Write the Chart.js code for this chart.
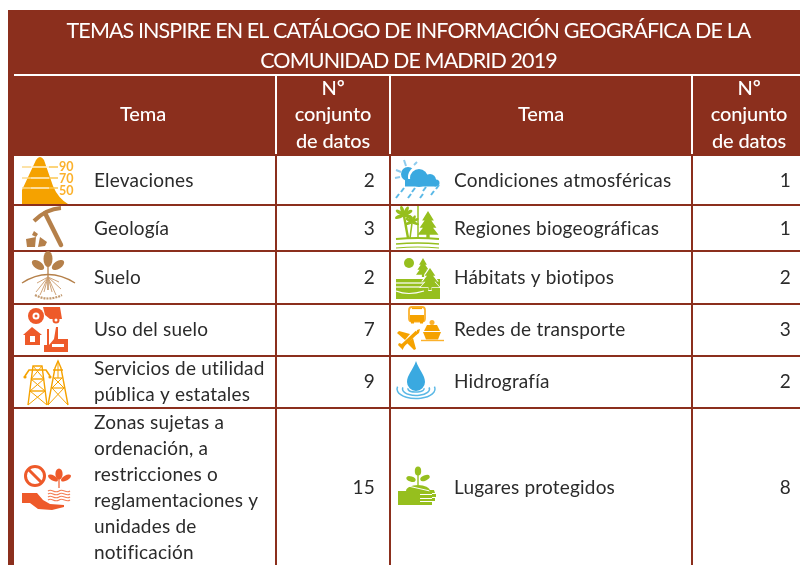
<!DOCTYPE html>
<html lang="es">
<head>
<meta charset="utf-8">
<title>Temas INSPIRE</title>
<script src="https://cdn.jsdelivr.net/npm/chart.js@4"></script>
<style>
  html, body { margin: 0; padding: 0; background: #fff; }
  canvas { display: block; }
</style>
</head>
<body>
<canvas id="tabla" width="800" height="565"></canvas>
<script>
const titulo = ["TEMAS INSPIRE EN EL CATÁLOGO DE INFORMACIÓN GEOGRÁFICA DE LA", "COMUNIDAD DE MADRID 2019"];
const cabeceraTema = "Tema";
const cabeceraConjuntos = ["Nº", "conjunto", "de datos"];

const temasIzq = [
  ["Elevaciones"],
  ["Geología"],
  ["Suelo"],
  ["Uso del suelo"],
  ["Servicios de utilidad", "pública y estatales"],
  ["Zonas sujetas a", "ordenación, a", "restricciones o", "reglamentaciones y", "unidades de", "notificación"],
];
const conjuntosIzq = [2, 3, 2, 7, 9, 15];

const temasDcha = [
  ["Condiciones atmosféricas"],
  ["Regiones biogeográficas"],
  ["Hábitats y biotipos"],
  ["Redes de transporte"],
  ["Hidrografía"],
  ["Lugares protegidos"],
];
const conjuntosDcha = [1, 1, 2, 3, 2, 8];

// bordes de la tabla, en unidades de los ejes
const bordesColumnas = [11, 276, 390, 692];
const bordesFilas = [155, 205, 251, 304, 356, 408];
const centrosFilas = [180.5, 228.5, 277.5, 329.5, 381.5, 487.5];
const finFilas = 565;

const MARRON = "#8b2f1d";
const NARANJA = "#f5a200";
const ROJIZO = "#ee5a2a";
const OCRE = "#b5804a";
const VERDE = "#96bf1e";
const AZUL = "#3aa9e0";
const TEXTO = "#2b2b2b";
const FUENTE = "Lato, 'Open Sans', sans-serif";

function poly(ctx, pts, color) {
  ctx.fillStyle = color;
  ctx.beginPath();
  pts.forEach((p, i) => i ? ctx.lineTo(p[0], p[1]) : ctx.moveTo(p[0], p[1]));
  ctx.closePath();
  ctx.fill();
}
function linea(ctx, pts, color, w) {
  ctx.strokeStyle = color;
  ctx.lineWidth = w;
  ctx.beginPath();
  pts.forEach((p, i) => i ? ctx.lineTo(p[0], p[1]) : ctx.moveTo(p[0], p[1]));
  ctx.stroke();
}
function circulo(ctx, x, y, r, color) {
  ctx.fillStyle = color;
  ctx.beginPath();
  ctx.arc(x, y, r, 0, Math.PI * 2);
  ctx.fill();
}
function hoja(ctx, x, y, rx, ry, rot, color) {
  ctx.fillStyle = color;
  ctx.beginPath();
  ctx.ellipse(x, y, rx, ry, rot, 0, Math.PI * 2);
  ctx.fill();
}
function pino(ctx, x, top, h, w, color) {
  poly(ctx, [[x, top], [x + w * 0.28, top + h * 0.35], [x + w * 0.16, top + h * 0.35], [x + w * 0.4, top + h * 0.62],
    [x + w * 0.24, top + h * 0.62], [x + w * 0.5, top + h * 0.88], [x + w * 0.08, top + h * 0.88], [x + w * 0.08, top + h],
    [x - w * 0.08, top + h], [x - w * 0.08, top + h * 0.88], [x - w * 0.5, top + h * 0.88], [x - w * 0.24, top + h * 0.62],
    [x - w * 0.4, top + h * 0.62], [x - w * 0.16, top + h * 0.35], [x - w * 0.28, top + h * 0.35]], color);
}
function palmera(ctx, x, y, r, color) {
  [-2.6, -1.9, -1.1, -0.5, 0.35, 2.8].forEach((a) =>
    hoja(ctx, x + Math.cos(a) * r * 0.5, y + Math.sin(a) * r * 0.5, r * 0.55, r * 0.2, a, color));
}

// iconos dibujados a mano, en pixeles de la pagina
const iconos = {
  elevaciones(ctx) {
    ctx.fillStyle = NARANJA;
    ctx.beginPath();
    ctx.moveTo(22, 204);
    ctx.lineTo(22, 190);
    ctx.lineTo(36, 160);
    ctx.quadraticCurveTo(40, 154, 44, 160);
    ctx.lineTo(53, 186);
    ctx.quadraticCurveTo(58, 198, 68, 204);
    ctx.closePath();
    ctx.fill();
    [167, 178, 188].forEach((y) => {
      linea(ctx, [[22, y], [31, y]], "#fbd98a", 1.5);
      linea(ctx, [[31, y], [49, y]], "#fff0cf", 1.5);
      linea(ctx, [[49, y], [58, y]], "#fbc64e", 1.5);
    });
    ctx.fillStyle = "#fbb12c";
    ctx.font = "bold 12.5px " + FUENTE;
    ctx.textAlign = "left";
    ctx.textBaseline = "middle";
    ctx.fillText("90", 59, 167);
    ctx.fillText("70", 59, 179);
    ctx.fillText("50", 59, 191);
  },
  geologia(ctx) {
    ctx.lineCap = "round";
    linea(ctx, [[45, 213], [61, 245]], OCRE, 4.5);
    ctx.strokeStyle = OCRE;
    ctx.lineWidth = 4;
    ctx.lineCap = "butt";
    ctx.beginPath();
    ctx.moveTo(34, 221);
    ctx.quadraticCurveTo(46, 209, 61, 208);
    ctx.stroke();
    poly(ctx, [[26, 239], [36, 237], [35, 247], [27, 247]], OCRE);
    poly(ctx, [[34, 231], [38, 234], [36, 237], [32, 235]], OCRE);
    poly(ctx, [[40, 237], [47, 242], [45, 246], [38, 247]], OCRE);
  },
  suelo(ctx) {
    ctx.lineCap = "butt";
    hoja(ctx, 48, 259, 4.5, 8, 0, OCRE);
    hoja(ctx, 38, 265, 7, 3.8, 0.6, OCRE);
    hoja(ctx, 58, 265, 7, 3.8, -0.6, OCRE);
    linea(ctx, [[48, 262], [48, 290]], OCRE, 1.3);
    ctx.strokeStyle = OCRE;
    ctx.lineWidth = 1.4;
    ctx.beginPath();
    ctx.moveTo(22, 283);
    ctx.quadraticCurveTo(48, 266, 75, 283);
    ctx.stroke();
    [[36, 292], [40, 295], [44, 292], [52, 292], [56, 295], [61, 289], [37, 283], [59, 282]].forEach((p) =>
      linea(ctx, [[48, 277], p], "#c99a6b", 0.9));
    ctx.setLineDash([2, 1]);
    ctx.lineWidth = 2.2;
    ctx.strokeStyle = "#c29a70";
    ctx.beginPath();
    ctx.moveTo(35, 295);
    ctx.quadraticCurveTo(48, 302, 62, 295);
    ctx.stroke();
    ctx.setLineDash([]);
  },
  usoSuelo(ctx) {
    circulo(ctx, 36, 316, 8, ROJIZO);
    circulo(ctx, 36, 316, 3.5, "#fff");
    circulo(ctx, 36, 316, 1.5, ROJIZO);
    poly(ctx, [[43, 307], [60, 307], [61, 313], [62, 319], [50, 319], [45, 315]], ROJIZO);
    circulo(ctx, 56, 320, 3.5, ROJIZO);
    circulo(ctx, 56, 320, 1.5, "#fff");
    poly(ctx, [[23, 335], [32, 327], [42, 335], [40, 335], [40, 345], [25, 345], [25, 335]], ROJIZO);
    ctx.fillStyle = "#fff";
    ctx.fillRect(30, 336, 5, 6);
    poly(ctx, [[44, 352], [44, 345], [47, 345], [47, 329], [49, 329], [49, 345], [54, 339], [56, 327], [58, 327], [58, 339], [68, 339], [68, 352]], ROJIZO);
    ctx.fillStyle = "#fff";
    ctx.fillRect(52, 344, 12, 3);
  },
  servicios(ctx) {
    ctx.lineCap = "butt";
    const c = NARANJA;
    linea(ctx, [[28, 405], [33, 366], [42, 366], [47, 405]], c, 1.4);
    linea(ctx, [[25, 376], [29, 370], [46, 370], [50, 376]], c, 1.6);
    linea(ctx, [[31, 379], [44, 379]], c, 1.4);
    linea(ctx, [[30, 391], [45, 391]], c, 1.4);
    linea(ctx, [[31, 379], [45, 391], [28, 405]], c, 1);
    linea(ctx, [[44, 379], [30, 391], [47, 405]], c, 1);
    linea(ctx, [[33, 366], [44, 379]], c, 1);
    linea(ctx, [[42, 366], [31, 379]], c, 1);
    circulo(ctx, 25, 377, 1.6, c);
    circulo(ctx, 50, 377, 1.6, c);
    linea(ctx, [[48, 405], [55, 368], [58, 361], [61, 368], [68, 405]], c, 1.4);
    linea(ctx, [[53, 370], [63, 370]], c, 1.5);
    linea(ctx, [[54, 378], [62, 378]], c, 1.2);
    linea(ctx, [[52, 388], [64, 388]], c, 1.2);
    linea(ctx, [[54, 378], [64, 388], [48, 405]], c, 1);
    linea(ctx, [[62, 378], [52, 388], [68, 405]], c, 1);
    linea(ctx, [[58, 361], [58, 378]], c, 1);
  },
  zonas(ctx) {
    ctx.strokeStyle = ROJIZO;
    ctx.lineWidth = 3;
    ctx.beginPath();
    ctx.arc(35, 476, 9.5, 0, Math.PI * 2);
    ctx.stroke();
    linea(ctx, [[28.5, 469.5], [41.5, 482.5]], ROJIZO, 3);
    hoja(ctx, 59, 474, 3.6, 5.5, 0, ROJIZO);
    hoja(ctx, 53, 478, 5.5, 2.6, 0.5, ROJIZO);
    hoja(ctx, 66, 478, 5.5, 2.6, -0.5, ROJIZO);
    linea(ctx, [[59, 476], [59, 488]], ROJIZO, 1.2);
    [491, 494, 497, 500].forEach((y) => {
      ctx.strokeStyle = "#f47e55";
      ctx.lineWidth = 1.2;
      ctx.beginPath();
      ctx.moveTo(48, y);
      ctx.bezierCurveTo(52, y - 3, 54, y + 3, 59, y);
      ctx.bezierCurveTo(63, y - 3, 66, y + 3, 70, y);
      ctx.stroke();
    });
    poly(ctx, [[22, 493], [37, 493], [43, 500], [50, 504], [64, 505], [64, 507], [52, 510], [38, 509], [30, 503], [22, 503]], ROJIZO);
  },
  condiciones(ctx) {
    circulo(ctx, 408, 174, 7, AZUL);
    [[404, 160, 406, 166], [396, 170, 401, 172], [395, 178, 400, 177], [414, 165, 417, 162]].forEach((r) =>
      linea(ctx, [[r[0], r[1]], [r[2], r[3]]], "#8dcbee", 2));
    circulo(ctx, 419, 177, 11, "#fff");
    circulo(ctx, 419, 178, 9, AZUL);
    circulo(ctx, 430, 180, 6, AZUL);
    circulo(ctx, 436, 183, 3.5, AZUL);
    ctx.fillStyle = AZUL;
    ctx.fillRect(405, 179, 31, 7.5);
    [[396, 198], [408, 198], [420, 198], [431, 195], [401, 192], [412, 192], [423, 191], [436, 189]].forEach((p) =>
      linea(ctx, [[p[0], p[1]], [p[0] + 3, p[1] - 4]], "#5ab8e6", 2));
  },
  regiones(ctx) {
    linea(ctx, [[418, 206], [418, 238]], VERDE, 1.5);
    pino(ctx, 428, 211, 27, 21, VERDE);
    linea(ctx, [[404, 216], [408, 238]], VERDE, 2.4);
    linea(ctx, [[412, 223], [410, 238]], VERDE, 1.6);
    palmera(ctx, 404, 215, 9, VERDE);
    palmera(ctx, 412, 222, 7, VERDE);
    [[239, 1.8], [244, 1.6], [248, 1.2]].forEach((l) => {
      ctx.strokeStyle = VERDE;
      ctx.lineWidth = l[1];
      ctx.beginPath();
      ctx.moveTo(396, l[0]);
      ctx.quadraticCurveTo(418, l[0] - 2, 439, l[0]);
      ctx.stroke();
    });
  },
  habitats(ctx) {
    circulo(ctx, 409, 263, 5, VERDE);
    ctx.fillStyle = VERDE;
    ctx.fillRect(396, 279, 44, 20);
    linea(ctx, [[396, 283], [428, 283]], "#fff", 1.2);
    linea(ctx, [[396, 287], [425, 287]], "#fff", 1.2);
    ctx.strokeStyle = "#fff";
    ctx.beginPath();
    ctx.moveTo(396, 291);
    ctx.quadraticCurveTo(408, 296, 424, 291);
    ctx.stroke();
    pino(ctx, 423, 258, 19, 14, VERDE);
    pino(ctx, 430, 266, 25, 22, "#fff");
    pino(ctx, 430, 268, 22, 19, VERDE);
  },
  redes(ctx) {
    // autobus
    ctx.strokeStyle = "#fbb12c";
    ctx.lineWidth = 1.8;
    ctx.beginPath();
    ctx.roundRect(409, 307, 16, 14.5, 3);
    ctx.stroke();
    ctx.fillStyle = NARANJA;
    ctx.fillRect(410, 315, 14, 6.5);
    ctx.fillRect(411, 321, 3, 2.5);
    ctx.fillRect(420, 321, 3, 2.5);
    linea(ctx, [[412, 308.5], [422, 308.5]], NARANJA, 1.2);
    // avion
    linea(ctx, [[401, 347], [417, 332]], NARANJA, 3.6);
    poly(ctx, [[417, 330], [420, 329], [419, 333], [416, 335]], NARANJA);
    poly(ctx, [[410, 334], [399, 331], [397, 333], [405, 340]], NARANJA);
    poly(ctx, [[413, 338], [416, 349], [414, 350], [407, 343]], NARANJA);
    poly(ctx, [[399, 343], [405, 345], [403, 349], [403, 350], [398, 345]], NARANJA);
    // barco
    circulo(ctx, 432, 322.5, 2.5, "#fbb12c");
    poly(ctx, [[427, 325], [437, 325], [440, 331], [424, 331]], NARANJA);
    poly(ctx, [[423, 332], [441, 332], [438, 339.5], [426, 339.5]], NARANJA);
    linea(ctx, [[421, 340.5], [444, 340.5]], "#fbb12c", 1.4);
  },
  hidrografia(ctx) {
    ctx.fillStyle = AZUL;
    ctx.beginPath();
    ctx.moveTo(416, 361);
    ctx.bezierCurveTo(419, 370, 425, 375, 425, 382);
    ctx.arc(416, 382, 9, 0, Math.PI);
    ctx.bezierCurveTo(407, 375, 413, 370, 416, 361);
    ctx.fill();
    ctx.strokeStyle = "#5ab8e6";
    ctx.lineWidth = 1.5;
    [[19, 9.5], [13.5, 6.5], [8, 3]].forEach((e) => {
      ctx.beginPath();
      ctx.ellipse(416, 389, e[0], e[1], 0, -0.25, Math.PI + 0.25);
      ctx.stroke();
    });
  },
  lugares(ctx) {
    hoja(ctx, 418, 471, 3.2, 4.5, 0, VERDE);
    hoja(ctx, 411, 479, 4.8, 2.6, 0.3, VERDE);
    hoja(ctx, 425, 478, 5, 2.6, -0.4, VERDE);
    linea(ctx, [[418, 472], [418, 485]], VERDE, 1.4);
    ctx.fillStyle = VERDE;
    ctx.beginPath();
    ctx.ellipse(418, 491, 12, 6, 0, Math.PI, 0);
    ctx.fill();
    ctx.fillRect(398, 491, 34, 14);
    ctx.fillStyle = "#fff";
    ctx.fillRect(420, 494, 14, 1);
    ctx.fillRect(420, 498, 14, 1);
    ctx.fillRect(420, 501, 14, 1);
    linea(ctx, [[408, 486], [430, 491]], "#fff", 1);
    poly(ctx, [[429, 490], [434, 490], [435, 493], [430, 493]], VERDE);
    poly(ctx, [[432, 494], [436, 494], [436, 497], [432, 497]], VERDE);
    poly(ctx, [[432, 498], [435, 498], [435, 501], [432, 501]], VERDE);
  },
};
const iconosIzq = ["elevaciones", "geologia", "suelo", "usoSuelo", "servicios", "zonas"];
const iconosDcha = ["condiciones", "regiones", "habitats", "redes", "hidrografia", "lugares"];

const tablaPlugin = {
  id: "tabla",
  afterDatasetsDraw(chart) {
    const { ctx, scales: { x, y } } = chart;
    const lineas = (lista, px, cy, paso) =>
      lista.forEach((t, i) => ctx.fillText(t, px, cy + (i - (lista.length - 1) / 2) * paso));

    ctx.save();
    ctx.textBaseline = "middle";

    // titulo
    ctx.fillStyle = "#fff";
    ctx.textAlign = "center";
    ctx.font = "21.5px " + FUENTE;
    ctx.letterSpacing = "-0.9px";
    lineas(titulo, x.getPixelForValue(408.5), y.getPixelForValue(46), 30);

    // cabeceras
    ctx.font = "500 20px " + FUENTE;
    ctx.letterSpacing = "-0.15px";
    [143, 541].forEach((cx) => ctx.fillText(cabeceraTema, x.getPixelForValue(cx), y.getPixelForValue(115)));
    [333, 749].forEach((cx) => lineas(cabeceraConjuntos, x.getPixelForValue(cx), y.getPixelForValue(115), 26.5));

    // filas
    ctx.font = "19px " + FUENTE;
    ctx.letterSpacing = "0.2px";
    temasIzq.forEach((tema, i) => {
      const cy = y.getPixelForValue(centrosFilas[i]);
      ctx.fillStyle = TEXTO;
      ctx.textAlign = "left";
      lineas(tema, x.getPixelForValue(94), cy, 26);
      lineas(temasDcha[i], x.getPixelForValue(454), cy, 26);
      ctx.textAlign = "right";
      ctx.fillText(String(conjuntosIzq[i]), x.getPixelForValue(375), cy);
      ctx.fillText(String(conjuntosDcha[i]), x.getPixelForValue(791), cy);
    });
    ctx.letterSpacing = "0px";

    // iconos
    iconosIzq.concat(iconosDcha).forEach((nombre) => {
      ctx.save();
      iconos[nombre](ctx);
      ctx.restore();
    });
    ctx.restore();
  },
};

// separadores blancos de la cabecera y banda marron (Chart.js pinta el primer dataset encima)
const pts = (a, b, c, d) => [{ x: a, y: b }, { x: c, y: d }];
const datasets = [
  { data: pts(14, 75, 800, 75), borderColor: "#fff", borderWidth: 2, pointRadius: 0 },
  ...bordesColumnas.slice(1).map((c) => ({ data: pts(c, 76, c, 154), borderColor: "#fff", borderWidth: 2, pointRadius: 0 })),
  { data: pts(8, 155, 800, 155), fill: { value: 10 }, backgroundColor: MARRON, borderWidth: 0, pointRadius: 0 },
];

new Chart(document.getElementById("tabla"), {
  type: "scatter",
  data: { datasets: datasets.map((d) => ({ ...d, showLine: true })) },
  plugins: [tablaPlugin],
  options: {
    responsive: false,
    animation: false,
    layout: { padding: { left: 8, top: 10 } },
    plugins: { legend: { display: false }, tooltip: { enabled: false }, title: { display: false } },
    scales: {
      x: {
        type: "linear",
        min: 8,
        max: 800,
        afterBuildTicks: (s) => { s.ticks = bordesColumnas.map((v) => ({ value: v })); },
        ticks: { display: false },
        border: { display: false },
        grid: { color: MARRON, lineWidth: (c) => (c.index === 0 ? 6 : 2), drawTicks: false },
      },
      y: {
        type: "linear",
        reverse: true,
        min: 10,
        max: finFilas,
        afterBuildTicks: (s) => { s.ticks = bordesFilas.map((v) => ({ value: v })); },
        ticks: { display: false },
        border: { display: false },
        grid: { color: MARRON, lineWidth: 2, drawTicks: false },
      },
    },
  },
});
</script>
</body>
</html>
